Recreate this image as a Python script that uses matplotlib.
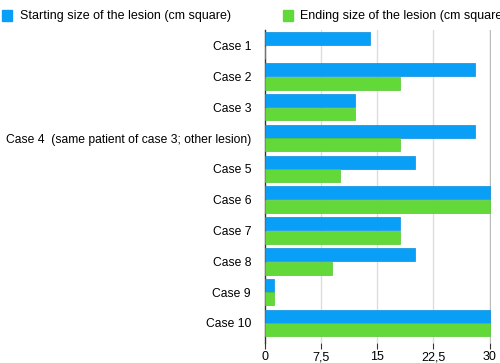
import matplotlib.pyplot as plt
import numpy as np

plt.rcParams["font.family"] = ["Liberation Sans", "DejaVu Sans"]

cases = ["Case 1", "Case 2", "Case 3", "Case 4  (same patient of case 3; other lesion)",
         "Case 5", "Case 6", "Case 7", "Case 8", "Case 9", "Case 10"]
start_size = [14, 28, 12, 28, 20, 30, 18, 20, 1.2, 30]
end_size = [0, 18, 12, 18, 10, 30, 18, 9, 1.2, 30]
xticks = [0, 7.5, 15, 22.5, 30]
xtick_labels = ["0", "7,5", "15", "22,5", "30"]

BLUE = "#0A9FF7"
GREEN = "#62D839"

fig = plt.figure(figsize=(5.0, 3.63), dpi=100)
ax = fig.add_axes([0.53, 0.055, 0.452, 0.862])

y = np.arange(len(cases))
h = 0.42
ax.barh(y - 0.22, start_size, height=h, color=BLUE, edgecolor="#0890E0", linewidth=0.5, zorder=3)
ax.barh(y + 0.22, end_size, height=h, color=GREEN, edgecolor="#55C530", linewidth=0.5, zorder=3)

ax.set_xlim(0, 30.2)
ax.set_yticks(y)
ax.set_yticklabels(cases, fontsize=8.7)
ax.set_xticks(xticks)
ax.set_xticklabels(xtick_labels, fontsize=9)
ax.tick_params(axis="y", length=0, pad=10)
ax.tick_params(axis="x", length=4, color="#333333", pad=2)

for t in xticks[1:-1]:
    ax.axvline(t, color="#dddddd", linewidth=1, zorder=1)
ax.axvline(30, color="#bbbbbb", linewidth=1, zorder=1)

for s in ["top", "right", "bottom"]:
    ax.spines[s].set_visible(False)
ax.spines["left"].set_color("#333333")
ax.spines["left"].set_linewidth(1)
ax.set_ylim(len(cases) - 0.35, -0.5)

# legend across the top (the second entry runs off the right edge, as in the source)
fig.patches.append(plt.Rectangle((0.004, 0.942), 0.02, 0.03, color=BLUE, transform=fig.transFigure))
fig.text(0.04, 0.957, "Starting size of the lesion (cm square)", fontsize=9, va="center")
fig.patches.append(plt.Rectangle((0.566, 0.942), 0.02, 0.03, color=GREEN, transform=fig.transFigure))
fig.text(0.6, 0.957, "Ending size of the lesion (cm square)", fontsize=9, va="center")

fig.savefig("out.png", dpi=100)
